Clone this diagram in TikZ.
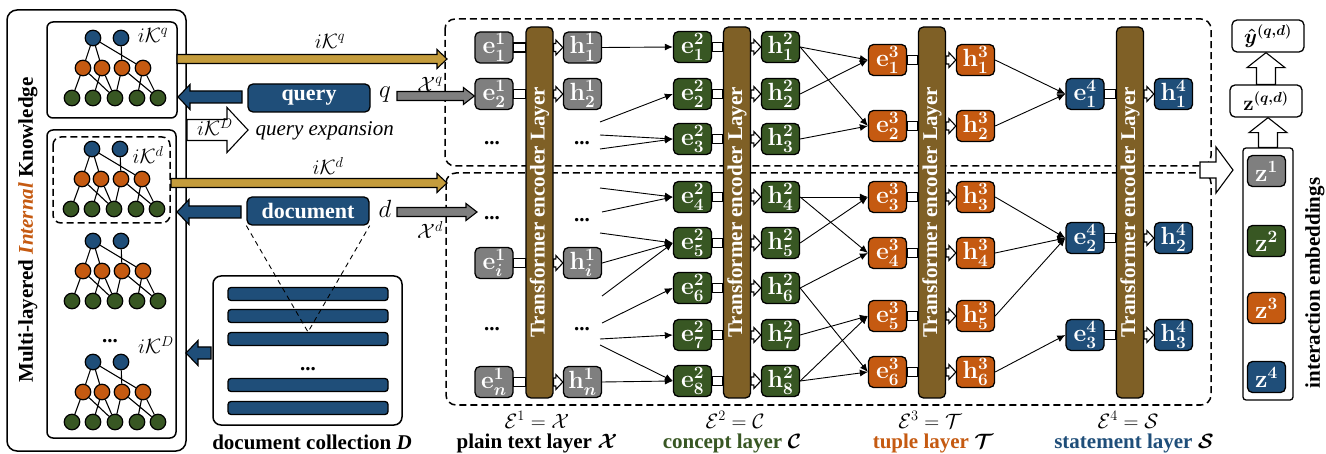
\documentclass[tikz,border=0pt]{standalone}
\usepackage{amsmath,bm}
\usepackage{fontspec}
\setmainfont{Liberation Serif}
\usetikzlibrary{arrows.meta,calc}
\DeclareMathSizes{24}{24}{18}{14}
\definecolor{cgray}{HTML}{7F7F7F}
\definecolor{cgreen}{HTML}{385723}
\definecolor{corange}{HTML}{C55A11}
\definecolor{cblue}{HTML}{1F4E79}
\definecolor{cbar}{HTML}{7F6026}
\definecolor{cgold}{HTML}{C49C3C}
\newcommand\myfs{\fontsize{21}{25}\selectfont}
\newcommand\nodefs{\fontsize{24}{28}\selectfont}
\newcommand\mathfs{\fontsize{20.74}{25}\selectfont}
% embedding label: letter, superscript, subscript (all bold)
\newcommand\emv[3]{$\mathbf{#1}^{\mathbf{#2}}_{\bm{#3}}$}
% horizontal fat arrow: style, from, to, half shaft, half head, signed head length
\newcommand\fatH[6]{\draw[#1] let \p1=(#2), \p2=(#3) in (\x1,{\y1+#4}) -- ({\x2-(#6)},{\y1+#4}) -- ({\x2-(#6)},{\y1+#5}) -- (\x2,\y1) -- ({\x2-(#6)},{\y1-(#5)}) -- ({\x2-(#6)},{\y1-(#4)}) -- (\x1,{\y1-(#4)}) -- cycle;}
% vertical fat arrow
\newcommand\fatV[6]{\draw[#1] let \p1=(#2), \p2=(#3) in ({\x1+#4},\y1) -- ({\x1+#4},{\y2-(#6)}) -- ({\x1+#5},{\y2-(#6)}) -- (\x1,\y2) -- ({\x1-(#5)},{\y2-(#6)}) -- ({\x1-(#4)},{\y2-(#6)}) -- ({\x1-(#4)},\y1) -- cycle;}
% e -> bar connector and bar -> h arrow
\newcommand\linkE[2]{\draw[whiteA] let \p1=(#1.east), \p2=(#2.west) in (\x1,{\y1+4.5pt}) rectangle (\x2,{\y1-4.5pt});}
\newcommand\linkH[2]{\fatH{whiteA}{#1.east |- #2.west}{#2.west}{4pt}{7.5pt}{7pt}}
\tikzset{
  panel/.style={draw=black, line width=1.5pt, rounded corners=10pt},
  dpanel/.style={draw=black, line width=1.5pt, rounded corners=8pt, dash pattern=on 7pt off 4pt},
  tcirc/.style={circle, draw=black, line width=1.2pt, minimum size=15.5pt, inner sep=0pt},
  tcb/.style={tcirc, fill=cblue}, tco/.style={tcirc, fill=corange}, tcg/.style={tcirc, fill=cgreen},
  tline/.style={line width=1.1pt},
  emb/.style={draw=black, line width=1.3pt, rounded corners=5pt, minimum width=38pt, minimum height=31pt,
    inner sep=0pt, text=white, font=\nodefs\bfseries\boldmath},
  grb/.style={emb, fill=cgray}, grn/.style={emb, fill=cgreen},
  orb/.style={emb, fill=corange}, blb/.style={emb, fill=cblue},
  tbar/.style={draw=black, line width=1.3pt, fill=cbar, rounded corners=5pt, minimum width=27pt,
    minimum height=371pt, inner sep=0pt},
  bartext/.style={rotate=90, text=white, font=\myfs\bfseries},
  edge/.style={-{Latex[length=8pt,width=7pt]}, line width=0.9pt},
  whiteA/.style={draw=black, line width=1.1pt, fill=white},
  goldA/.style={draw=black, line width=1.1pt, fill=cgold},
  blueA/.style={draw=black, line width=1.1pt, fill=cblue},
  grayA/.style={draw=black, line width=1.1pt, fill=cgray},
  qbox/.style={draw=black, line width=1.3pt, fill=cblue, rounded corners=5pt, text=white,
    font=\fontsize{22}{26}\selectfont\bfseries, minimum width=122pt, minimum height=28pt, inner sep=0pt},
  dbar/.style={draw=black, line width=1.3pt, fill=cblue, rounded corners=3pt, minimum width=160pt,
    minimum height=13pt, inner sep=0pt},
  wbox/.style={draw=black, line width=1.3pt, fill=white, rounded corners=5pt, minimum width=72pt,
    minimum height=32pt, inner sep=0pt, font=\fontsize{22}{26}\selectfont\boldmath},
  mlab/.style={font=\mathfs},
  blab/.style={font=\myfs\bfseries\boldmath},
  dots/.style={font=\myfs\bfseries, anchor=base, inner sep=0pt}
}
\newcommand\ktree[3]{%
\begin{scope}[shift={(#1,#2)}]
\node[tcb] (#3b1) at (93,38) {};
\node[tcb] (#3b2) at (121,38) {};
\node[tco] (#3o1) at (83,68) {};
\node[tco] (#3o2) at (102,68) {};
\node[tco] (#3o3) at (122,68) {};
\node[tco] (#3o4) at (143,68) {};
\node[tcg] (#3g1) at (72,98) {};
\node[tcg] (#3g2) at (93,98) {};
\node[tcg] (#3g3) at (115,98) {};
\node[tcg] (#3g4) at (137,98) {};
\node[tcg] (#3g5) at (158,98) {};
\draw[tline] (#3b1)--(#3o1) (#3b1)--(#3o2) (#3b1)--(#3o4) (#3b2)--(#3o3)
  (#3o1)--(#3g1) (#3o1)--(#3g3) (#3o2)--(#3g2) (#3o2)--(#3g3) (#3o3)--(#3g3)
  (#3o3)--(#3g5) (#3o4)--(#3g4) (#3o4)--(#3g5);
\end{scope}}
\begin{document}
\begin{tikzpicture}[x=1pt,y=-1pt,font=\myfs]
\useasboundingbox (0,0) rectangle (1326,454);

% ================= left panel =================
\draw[panel] (7,10) rectangle (186,451);
\draw[panel, rounded corners=6pt] (47,22) rectangle (177,118);
\draw[panel, rounded corners=6pt] (47,130) rectangle (176,438);
\draw[dpanel] (53,137) rectangle (170,223);
\ktree{0}{0}{ta}
\ktree{-1}{111}{tb}
\ktree{0}{203}{tc}
\ktree{0}{324}{td}
\node[mlab] (kq) at (153,35) {$i\mathcal{K}^q$};
\node[mlab] (kd) at (148,155) {$i\mathcal{K}^d$};
\node[dots] (kdots) at (110,343) {...};
\node[mlab] (kD) at (156,345) {$i\mathcal{K}^D$};
\node[rotate=90, font=\myfs\bfseries] (mlk) at (28,230) {Multi-layered \textcolor{corange}{\textit{Internal}} Knowledge};

% ================= query / document =================
\node[qbox] (query) at (309,98) {query};
\node[qbox] (document) at (308,211) {document};
\node[font=\fontsize{24.88}{30}\selectfont] (q) at (385,95) {$q$};
\node[font=\fontsize{24.88}{30}\selectfont] (d) at (385,209) {$d$};
\node[mlab] (xq) at (430,84) {$\mathcal{X}^q$};
\node[mlab] (xd) at (430,230) {$\mathcal{X}^d$};
\node[anchor=west, font=\myfs\itshape] (qe) at (252,131) {query expansion};

% document collection
\node[panel, rounded corners=8pt, minimum width=189pt, minimum height=149pt] (coll) at (307.5,350.5) {};
\node[dbar] (db1) at (308,294) {};
\node[dbar] (db2) at (308,316) {};
\node[dbar] (db3) at (308,339) {};
\node[dots] (cdots) at (308,371) {...};
\node[dbar] (db4) at (308,385) {};
\node[dbar] (db5) at (308,408) {};
\node[font=\myfs\bfseries] (colllab) at (312,442) {document collection \textit{D}};
\coordinate (conv) at (308,332);
\draw[line width=0.9pt, dash pattern=on 5pt off 4pt] (document.south west) -- (conv) -- (document.south east);

% ================= middle dashed boxes =================
\draw[dpanel, rounded corners=10pt] (445,19) rectangle (1211,166);
\draw[dpanel, rounded corners=10pt] (446,173) rectangle (1211,405);

% left arrows
\coordinate (gq0) at (177,59);  \coordinate (gq1) at (447,59);
\coordinate (gd0) at (171,183); \coordinate (gd1) at (447,183);
\coordinate (bq0) at (242,97);  \coordinate (bq1) at (178,97);
\coordinate (bd0) at (241,212); \coordinate (bd1) at (177,212);
\coordinate (bc0) at (211,353); \coordinate (bc1) at (186,353);
\coordinate (wq0) at (187,130); \coordinate (wq1) at (248,130);
\coordinate (gr0) at (397,96);
\coordinate (gr1) at (397,212); \coordinate (gr2) at (477,212);
\fatH{goldA}{gq0}{gq1}{4.5pt}{9.5pt}{10pt}
\fatH{goldA}{gd0}{gd1}{4.5pt}{9.5pt}{10pt}
\fatH{blueA}{bq0}{bq1}{6pt}{12.5pt}{-12pt}
\fatH{blueA}{bd0}{bd1}{6pt}{12.5pt}{-12pt}
\fatH{blueA}{bc0}{bc1}{6pt}{12.5pt}{-12pt}
\fatH{whiteA}{wq0}{wq1}{10.5pt}{22.5pt}{21pt}
\node[mlab] (kDq) at (215,127) {$i\mathcal{K}^D$};
\node[mlab] (kql) at (330,41) {$i\mathcal{K}^q$};
\node[mlab] (kdl) at (328,166) {$i\mathcal{K}^d$};

% ================= bars =================
\foreach \b/\x in {1/539.5,2/737,3/932,4/1130}{
  \node[tbar] (bar\b) at (\x,212.5) {};
  \node[bartext] (bt\b) at (\x,212.5) {Transformer encoder Layer};
}

% ================= layer 1 =================
\node[grb] (e11) at (494,47.5) {\emv{e}{1}{1}};
\node[grb] (e12) at (494,94) {\emv{e}{1}{2}};
\node[grb] (e1i) at (494,263) {\emv{e}{1}{i}};
\node[grb] (e1n) at (494,382) {\emv{e}{1}{n}};
\node[grb] (h11) at (582.5,47.5) {\emv{h}{1}{1}};
\node[grb] (h12) at (582.5,94) {\emv{h}{1}{2}};
\node[grb] (h1i) at (582.5,263) {\emv{h}{1}{i}};
\node[grb] (h1n) at (582.5,382) {\emv{h}{1}{n}};
\node[dots] (d1a) at (492,145) {...};
\node[dots] (d1b) at (492,220) {...};
\node[dots] (d1c) at (492,331) {...};
\node[dots] (d2a) at (582,145) {...};
\node[dots] (d2b) at (582,222) {...};
\node[dots] (d2c) at (582,331) {...};
\foreach \k in {1,2,i,n}{\linkE{e1\k}{bar1} \linkH{bar1}{h1\k}}
\fatH{grayA}{gr0}{e12.west}{4.5pt}{8.5pt}{11pt}
\fatH{grayA}{gr1}{gr2}{4.5pt}{8.5pt}{11pt}

% ================= layer 2 =================
\foreach \k/\y in {1/47,2/94,3/139,4/197,5/243,6/288,7/335,8/381}{
  \node[grn] (e2\k) at (692.5,\y) {\emv{e}{2}{\k}};
  \node[grn] (h2\k) at (780.5,\y) {\emv{h}{2}{\k}};
  \linkE{e2\k}{bar2} \linkH{bar2}{h2\k}
}
% ================= layer 3 =================
\foreach \k/\y in {1/60,2/126,3/197,4/253,5/316,6/372}{
  \node[orb] (e3\k) at (887.5,\y) {\emv{e}{3}{\k}};
  \node[orb] (h3\k) at (975.5,\y) {\emv{h}{3}{\k}};
  \linkE{e3\k}{bar3} \linkH{bar3}{h3\k}
}
% ================= layer 4 =================
\foreach \k/\y in {1/94,2/238,3/335}{
  \node[blb] (e4\k) at (1085,\y) {\emv{e}{4}{\k}};
  \node[blb] (h4\k) at (1173.5,\y) {\emv{h}{4}{\k}};
  \linkE{e4\k}{bar4} \linkH{bar4}{h4\k}
}

% ================= edges 1 -> 2 =================
\coordinate (f1) at (600,122);  \coordinate (f2) at (600,135);
\coordinate (f3) at (600,149);  \coordinate (f4) at (600,188);
\coordinate (f5) at (602,212);  \coordinate (f6) at (600,233);
\coordinate (f7) at (602,296);  \coordinate (f8) at (602,323);
\coordinate (f9) at (600,339);  \coordinate (f10) at (600,345);
\draw[edge] (h11.east) -- (e21.west);
\draw[edge] (f1) -- (e22.west);
\draw[edge] (f2) -- (e23.west);
\draw[edge] (f3) -- (e23.west);
\draw[edge] (f4) -- (e24.west);
\draw[edge] (f5) -- (e24.west);
\draw[edge] (f6) -- (e25.west);
\draw[edge] (h1i.east) -- (e25.west);
\draw[edge] (f7) -- (e25.west);
\draw[edge] (f8) -- (e26.west);
\draw[edge] (f9) -- (e27.west);
\draw[edge] (f10) -- (e28.west);
\draw[edge] (h1n.east) -- (e28.west);
% ================= edges 2 -> 3 =================
\foreach \a/\b in {1/1,1/2,2/1,3/2,4/3,4/4,5/3,6/4,6/6,7/5,8/5,8/6}{
  \draw[edge] (h2\a.east) -- (e3\b.west);
}
% ================= edges 3 -> 4 =================
\foreach \a/\b in {1/1,2/1,3/2,4/2,5/2,6/3}{
  \draw[edge] (h3\a.east) -- (e4\b.west);
}

% ================= bottom labels =================
\node[mlab] (E1) at (537,420) {$\mathcal{E}^1=\mathcal{X}$};
\node[mlab] (E2) at (735,420) {$\mathcal{E}^2=\mathcal{C}$};
\node[mlab] (E3) at (930,420) {$\mathcal{E}^3=\mathcal{T}$};
\node[mlab] (E4) at (1128,420) {$\mathcal{E}^4=\mathcal{S}$};
\node[blab] (L1) at (537,443) {plain text layer $\mathcal{X}$};
\node[blab] (L2) at (732,443) {\textcolor{cgreen}{concept layer} $\mathcal{C}$};
\node[blab] (L3) at (933,443) {\textcolor{corange}{tuple layer} $\mathcal{T}$};
\node[blab] (L4) at (1134,443) {\textcolor{cblue}{statement layer} $\mathcal{S}$};

% ================= right side =================
\coordinate (ba0) at (1200,170); \coordinate (ba1) at (1233,170);
\fatH{whiteA}{ba0}{ba1}{8pt}{23pt}{17pt}
\node[wbox] (yhat) at (1268,36) {$\hat{\bm{y}}^{(q,d)}$};
\node[wbox] (zqd) at (1266,101) {$\mathbf{z}^{(q,d)}$};
\node[draw=black, line width=1.3pt, rounded corners=3pt, minimum width=50pt, minimum height=252pt] (zcont) at (1268,274) {};
\node[emb, fill=cgray] (z1) at (1266.5,171) {$\mathbf{z}^{\mathbf{1}}$};
\node[emb, fill=cgreen] (z2) at (1266.5,241) {$\mathbf{z}^{\mathbf{2}}$};
\node[emb, fill=corange] (z3) at (1266.5,308) {$\mathbf{z}^{\mathbf{3}}$};
\node[emb, fill=cblue] (z4) at (1266.5,377) {$\mathbf{z}^{\mathbf{4}}$};
\fatV{whiteA}{zqd.north}{yhat.south}{9.5pt}{19pt}{15pt}
\fatV{whiteA}{zcont.north}{zqd.south}{9.5pt}{19pt}{15pt}
\node[rotate=90, font=\myfs\bfseries] (ie) at (1315,283) {interaction embeddings};
\end{tikzpicture}
\end{document}
